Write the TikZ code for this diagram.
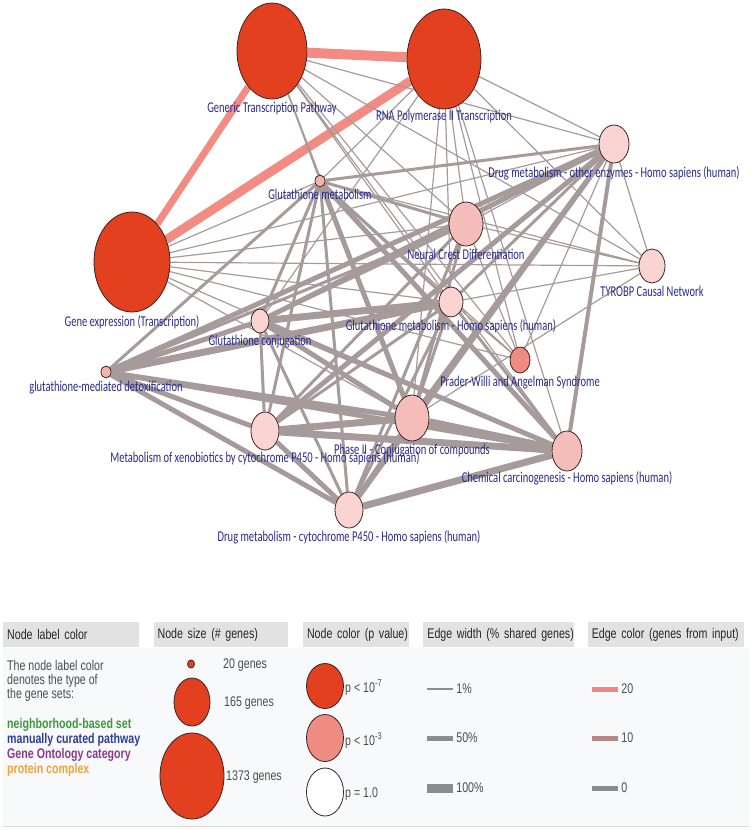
\documentclass[tikz,border=0pt]{standalone}
\usepackage{fontspec}
\setmainfont{Liberation Sans}
\newfontfamily\netfont[FakeStretch=0.7]{Carlito}
\newfontfamily\legfont[FakeStretch=0.76]{Liberation Sans}
\usetikzlibrary{positioning, shapes.geometric}
\pgfdeclarelayer{edges}
\pgfsetlayers{edges,main}

\definecolor{nodered}{HTML}{E2401F}
\definecolor{pale}{HTML}{F9D4D1}
\definecolor{pinkset}{HTML}{F5BDB9}
\definecolor{smallset}{HTML}{F2B3AB}
\definecolor{salmonset}{HTML}{EE8C82}
\definecolor{nodeline}{HTML}{3A2222}
\definecolor{labelblue}{HTML}{2A2A8C}
\definecolor{edgegray}{HTML}{A69A9A}
\definecolor{edgered}{HTML}{F28B82}
\definecolor{headgray}{HTML}{E2E2E2}
\definecolor{legendbg}{HTML}{F8F9FB}
\definecolor{legendline}{HTML}{D8DADE}
\definecolor{swatchgray}{HTML}{8C8C8C}
\definecolor{swatchrose}{HTML}{B88484}
\definecolor{swatchred}{HTML}{F08682}
\definecolor{nbhgreen}{HTML}{3C9A3C}
\definecolor{curblue}{HTML}{2E3D99}
\definecolor{gopurple}{HTML}{8B3A8B}
\definecolor{cplxorange}{HTML}{F2A23A}

\tikzset{
  gset/.style={ellipse, draw=nodeline, line width=0.8pt, inner sep=0pt},
  glabel/.style={anchor=base, inner sep=0pt, text=labelblue,
    font=\netfont\fontsize{15}{17}\selectfont},
  thinedge/.style={draw=edgegray, line width=1.2pt},
  midedge/.style={draw=edgegray, line width=3pt},
  thickedge/.style={draw=edgegray, line width=5pt},
  heavyedge/.style={draw=edgegray, line width=7pt},
  redge/.style={draw=edgered},
  legendhead/.style={fill=headgray, text=black!85, minimum height=25pt,
    inner xsep=4pt, text width=#1, align=left,
    font=\legfont\fontsize{14}{16}\selectfont},
  legtext/.style={inner sep=0pt, text=black!70,
    font=\legfont\fontsize{14}{16}\selectfont},
  swatch/.style={inner sep=0pt, minimum width=26pt}
}

\begin{document}
\begin{tikzpicture}[x=1pt, y=-1pt]
\useasboundingbox (0,0) rectangle (753,830);

% gene sets
\node (GTP) [gset, fill=nodered, minimum width=70pt, minimum height=96pt] at (272,51) {};
\node (RNA) [gset, fill=nodered, minimum width=74pt, minimum height=100pt] at (444,59) {};
\node (GE) [gset, fill=nodered, minimum width=76pt, minimum height=100pt] at (132,262) {};
\node (GM) [gset, fill=smallset, minimum width=10pt, minimum height=12pt] at (320,181) {};
\node (DMO) [gset, fill=pale, minimum width=30pt, minimum height=38pt] at (614,144) {};
\node (NCD) [gset, fill=pinkset, minimum width=34pt, minimum height=44pt] at (466,224) {};
\node (TYR) [gset, fill=pale, minimum width=26pt, minimum height=34pt] at (652,266) {};
\node (GMH) [gset, fill=pale, minimum width=24pt, minimum height=30pt] at (451,302) {};
\node (GC) [gset, fill=pale, minimum width=18pt, minimum height=24pt] at (260,321) {};
\node (GMD) [gset, fill=smallset, minimum width=10pt, minimum height=12pt] at (106,372) {};
\node (PWA) [gset, fill=salmonset, minimum width=20pt, minimum height=26pt] at (520,360) {};
\node (PII) [gset, fill=pinkset, minimum width=34pt, minimum height=46pt] at (412,418) {};
\node (MXB) [gset, fill=pale, minimum width=28pt, minimum height=38pt] at (265,431) {};
\node (CC) [gset, fill=pinkset, minimum width=30pt, minimum height=40pt] at (567,451) {};
\node (DMC) [gset, fill=pale, minimum width=28pt, minimum height=36pt] at (349,510) {};

% labels
\node (GTPl) [below=13pt of GTP, glabel] {Generic Transcription Pathway};
\node (RNAl) [below=11pt of RNA, glabel] {RNA Polymerase II Transcription};
\node (GEl) [below=14pt of GE, glabel] {Gene expression (Transcription)};
\node (GMl) [below=12pt of GM, glabel] {Glutathione metabolism};
\node (DMOl) [below=14pt of DMO, glabel] {Drug metabolism - other enzymes - Homo sapiens (human)};
\node (NCDl) [below=13pt of NCD, glabel] {Neural Crest Differentiation};
\node (TYRl) [below=13pt of TYR, glabel] {TYROBP Causal Network};
\node (GMHl) [below=13pt of GMH, glabel] {Glutathione metabolism - Homo sapiens (human)};
\node (GCl) [below=12pt of GC, glabel] {Glutathione conjugation};
\node (GMDl) [below=13pt of GMD, glabel] {glutathione-mediated detoxification};
\node (PWAl) [below=13pt of PWA, glabel] {Prader-Willi and Angelman Syndrome};
\node (PIIl) [below=13pt of PII, glabel] {Phase II - Conjugation of compounds};
\node (MXBl) [below=12pt of MXB, glabel] {Metabolism of xenobiotics by cytochrome P450 - Homo sapiens (human)};
\node (CCl) [below=11pt of CC, glabel] {Chemical carcinogenesis - Homo sapiens (human)};
\node (DMCl) [below=13pt of DMC, glabel] {Drug metabolism - cytochrome P450 - Homo sapiens (human)};

% edges
\begin{pgfonlayer}{edges}
\draw[redge, line width=10pt] (GTP) -- (RNA);
\draw[redge, line width=7pt] (GTP) -- (GE);
\draw[redge, line width=9pt] (RNA) -- (GE);

\draw[thinedge] (GTP) -- (GM) (GTP) -- (NCD) (GTP) -- (GMH) (GTP) -- (DMO)
  (GTP) -- (TYR) (GTP) -- (PWA) (GTP) -- (CC) (GTP) -- (PII);
\draw[thinedge] (RNA) -- (GM) (RNA) -- (NCD) (RNA) -- (GMH) (RNA) -- (DMO)
  (RNA) -- (TYR) (RNA) -- (PWA) (RNA) -- (CC) (RNA) -- (PII) (RNA) -- (GC);
\draw[thinedge] (GE) -- (GM) (GE) -- (NCD) (GE) -- (GMH) (GE) -- (DMO)
  (GE) -- (TYR) (GE) -- (PWA) (GE) -- (CC) (GE) -- (PII);
\draw[thinedge] (TYR) -- (DMO) (TYR) -- (NCD) (TYR) -- (GMH) (TYR) -- (GM)
  (TYR) -- (PII) (PWA) -- (GMH) (PWA) -- (NCD) (PWA) -- (DMO) (PWA) -- (GM)
  (NCD) -- (DMO);

\draw[midedge] (GM) -- (GC) (GM) -- (MXB) (GM) -- (DMC) (GM) -- (DMO)
  (GM) -- (GMH) (GM) -- (NCD) (GMD) -- (GM);
\draw[midedge] (NCD) -- (GC) (NCD) -- (MXB) (NCD) -- (DMC) (NCD) -- (GMD)
  (NCD) -- (PII);
\draw[midedge] (GMH) -- (MXB) (GMH) -- (DMC) (GMH) -- (PII) (GMH) -- (CC)
  (GC) -- (MXB) (GC) -- (DMC) (DMO) -- (GMH);
\draw[draw=edgegray, line width=4pt] (CC) -- (DMO);

\draw[thickedge] (GMD) -- (GC) (GMD) -- (MXB) (GMD) -- (DMC) (GMD) -- (PII)
  (GMD) -- (CC) (GMD) -- (DMO);
\draw[thickedge] (GC) -- (PII) (GC) -- (CC) (GC) -- (DMO) (GM) -- (PII)
  (GM) -- (CC) (MXB) -- (DMO) (PII) -- (DMO) (DMC) -- (DMO)
  (MXB) -- (DMC) (PII) -- (DMC);
\draw[heavyedge] (GC) -- (GMH) (GMD) -- (GMH) (MXB) -- (PII) (MXB) -- (CC)
  (PII) -- (CC) (DMC) -- (CC);
\end{pgfonlayer}

% legend
\fill[legendbg] (3,648) rectangle (749,826);
\draw[legendline, line width=1pt] (3,826) -- (749,826);

\node (HLabel) [legendhead=128pt, anchor=north west] at (3,622) {\mbox{Node label color}};
\node (HSize) [legendhead=126pt, right=14pt of HLabel] {\mbox{Node size (\# genes)}};
\node (HColor) [legendhead=98pt, right=15pt of HSize] {\mbox{Node color (p value)}};
\node (HWidth) [legendhead=143pt, right=14pt of HColor] {\mbox{Edge width (\% shared genes)}};
\node (HEdge) [legendhead=148pt, right=13pt of HWidth] {\mbox{Edge color (genes from input)}};

\node (Intro1) [legtext, anchor=base west] at (7,670) {The node label color};
\node (Intro2) [legtext, anchor=base west] at (7,684) {denotes the type of};
\node (Intro3) [legtext, anchor=base west] at (7,698) {the gene sets:};
\node (TypeNbh) [legtext, anchor=base west, text=nbhgreen] at (7,728) {\bfseries neighborhood-based set};
\node (TypeCur) [legtext, anchor=base west, text=curblue] at (7,743) {\bfseries manually curated pathway};
\node (TypeGO) [legtext, anchor=base west, text=gopurple] at (7,758) {\bfseries Gene Ontology category};
\node (TypeCplx) [legtext, anchor=base west, text=cplxorange] at (7,773) {\bfseries protein complex};

\node (S20) [gset, fill=nodered, minimum width=7pt, minimum height=8pt] at (191,664) {};
\node (S165) [gset, fill=nodered, minimum width=36pt, minimum height=48pt] at (192,702) {};
\node (S1373) [gset, fill=nodered, minimum width=64pt, minimum height=86pt] at (192,776) {};
\node (S20l) [legtext, anchor=base west] at (223,668) {20 genes};
\node (S165l) [legtext, anchor=base west] at (224,706) {165 genes};
\node (S1373l) [legtext, anchor=base west] at (226,780) {1373 genes};

\node (Pred) [gset, fill=nodered, minimum width=37pt, minimum height=45pt] at (325,686) {};
\node (Ppink) [gset, fill=salmonset, minimum width=37pt, minimum height=47pt] at (325,738) {};
\node (Pwhite) [gset, fill=white, minimum width=37pt, minimum height=48pt] at (325,792) {};
\node (Predl) [legtext, anchor=base west] at (345,692) {p < 10\textsuperscript{-7}};
\node (Ppinkl) [legtext, anchor=base west] at (345,745) {p < 10\textsuperscript{-3}};
\node (Pwhitel) [legtext, anchor=base west] at (345,797) {p = 1.0};

\node (W1) [swatch, fill=swatchgray, minimum height=1.2pt] at (440,689) {};
\node (W50) [swatch, fill=swatchgray, minimum height=5pt] at (440,738) {};
\node (W100) [swatch, fill=swatchgray, minimum height=9pt] at (440,788) {};
\node (W1l) [legtext, right=3pt of W1] {1\%};
\node (W50l) [legtext, right=3pt of W50] {50\%};
\node (W100l) [legtext, right=3pt of W100] {100\%};

\node (C20) [swatch, fill=swatchred, minimum height=5pt] at (605,689) {};
\node (C10) [swatch, fill=swatchrose, minimum height=5pt] at (605,738) {};
\node (C0) [swatch, fill=swatchgray, minimum height=5pt] at (605,788) {};
\node (C20l) [legtext, right=3pt of C20] {20};
\node (C10l) [legtext, right=3pt of C10] {10};
\node (C0l) [legtext, right=3pt of C0] {0};
\end{tikzpicture}
\end{document}
